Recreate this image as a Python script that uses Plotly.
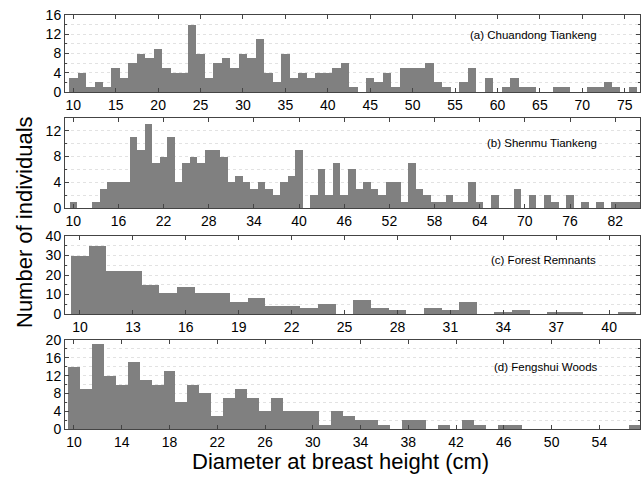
import plotly.graph_objects as go

# ---- data (DBH class in cm, number of individuals) ----
a_dbh = list(range(10, 77))
a_counts = [3, 4, 1, 2, 1, 5, 3, 6, 8, 7, 9, 5, 4, 4, 14, 8, 3, 6, 7, 5,
            8, 7, 11, 4, 2, 8, 3, 4, 3, 4, 4, 5, 6, 1, 0, 3, 2, 4, 1, 5,
            5, 5, 6, 2, 1, 0, 2, 5, 0, 3, 0, 1, 3, 1, 1, 0, 0, 1, 1, 0,
            0, 1, 1, 2, 1, 0, 1]

b_dbh = list(range(10, 86))
b_counts = [1, 0, 0, 1, 3, 4, 4, 4, 11, 9, 13, 7, 8, 11, 4, 7, 8, 7, 9, 9,
            8, 4, 5, 4, 3, 4, 3, 2, 4, 5, 9, 0, 2, 6, 2, 7, 2, 6, 3, 4,
            3, 2, 4, 4, 1, 7, 3, 2, 1, 1, 2, 1, 1, 4, 1, 0, 2, 0, 0, 3,
            0, 2, 0, 2, 1, 0, 2, 0, 1, 0, 1, 0, 1, 1, 1, 1]

c_dbh = list(range(10, 42))
c_counts = [30, 35, 22, 22, 15, 11, 14, 11, 11, 6, 8, 4, 4, 3, 5, 0, 7, 3, 2, 0,
            3, 2, 6, 0, 1, 2, 0, 1, 1, 0, 0, 1]

d_dbh = list(range(10, 58))
d_counts = [14, 9, 19, 12, 10, 15, 11, 10, 13, 6, 10, 8, 3, 7, 9, 7, 4, 7, 4, 4,
            4, 1, 4, 3, 2, 2, 1, 0, 2, 2, 0, 1, 0, 2, 1, 0, 1, 1, 0, 0,
            0, 0, 0, 0, 0, 0, 0, 1]

panel_labels = ["(a) Chuandong Tiankeng", "(b) Shenmu Tiankeng",
                "(c) Forest Remnants", "(d) Fengshui Woods"]
x_ticks = [list(range(10, 80, 5)), list(range(10, 88, 6)),
           list(range(10, 43, 3)), list(range(10, 58, 4))]
y_ticks = [[0, 4, 8, 12, 16], [0, 4, 8, 12], [0, 10, 20, 30, 40], [0, 4, 8, 12, 16, 20]]

# ---- layout geometry (pixels) ----
W, H = 641, 477
L, R, T, B = 65, 640, 15, 429
panels_px = [(15, 92), (118, 208), (236, 314), (340, 429)]
x_ranges = [[9.02, 76.8], [8.9, 85.3], [9.15, 41.75], [9.25, 57.4]]
y_ranges = [[0, 16], [0, 14], [0, 40], [0, 20]]
y_minor = [2, 2, 5, 2]
label_px = [(533, 35), (542, 143), (543, 260), (546, 367)]

def py(p):
    return (B - p) / (B - T)

def px(p):
    return (p - L) / (R - L)

fig = go.Figure()
datasets = [(a_dbh, a_counts), (b_dbh, b_counts), (c_dbh, c_counts), (d_dbh, d_counts)]
font = "Liberation Sans, Arial, sans-serif"

for i, (xs, ys) in enumerate(datasets):
    n = "" if i == 0 else str(i + 1)
    fig.add_trace(go.Bar(x=xs, y=ys, width=1.0, marker=dict(color="#808080", line=dict(width=0)),
                         xaxis="x" + n, yaxis="y" + n, showlegend=False))
    top, bot = panels_px[i]
    fig.layout["xaxis" + n] = dict(
        domain=[0, 1], anchor="y" + n, range=x_ranges[i], tickvals=x_ticks[i],
        showline=True, linecolor="#444", linewidth=1, mirror="allticks",
        ticks="inside", ticklen=4, tickcolor="#444", showgrid=False, zeroline=False,
        automargin=False,
        tickfont=dict(family=font, size=14, color="black"))
    fig.layout["yaxis" + n] = dict(
        domain=[py(bot), py(top)], anchor="x" + n, range=y_ranges[i], tickvals=y_ticks[i],
        showline=True, linecolor="#444", linewidth=1, mirror="allticks",
        ticks="inside", ticklen=4, tickcolor="#444", zeroline=False,
        showgrid=True, gridcolor="#e2e2e2", griddash="dot", gridwidth=1,
        minor=dict(dtick=y_minor[i], showgrid=True, gridcolor="#e2e2e2", griddash="dot",
                   ticks="inside", ticklen=2, tickcolor="#444"),
        automargin=False,
        tickfont=dict(family=font, size=14, color="black"))
    lx, ly = label_px[i]
    fig.add_annotation(x=px(lx), y=py(ly), xref="paper", yref="paper", text=panel_labels[i],
                       showarrow=False, xanchor="center", yanchor="middle",
                       font=dict(family=font, size=11.5, color="black"))

fig.add_annotation(x=px(340), y=py(462), xref="paper", yref="paper",
                   text="Diameter at breast height (cm)", showarrow=False,
                   xanchor="center", yanchor="middle", font=dict(family=font, size=22, color="black"))
fig.add_annotation(x=px(24), y=py(222), xref="paper", yref="paper",
                   text="Number of individuals", showarrow=False, textangle=-90,
                   xanchor="center", yanchor="middle", font=dict(family=font, size=22, color="black"))

fig.update_layout(width=W, height=H, bargap=0, plot_bgcolor="white", paper_bgcolor="white",
                  margin=dict(l=L, r=W - R, t=T, b=H - B))

fig.write_html("out.html", config={"responsive": False, "displayModeBar": False},
               post_script="document.body.style.margin='0';document.body.style.overflow='hidden';")
